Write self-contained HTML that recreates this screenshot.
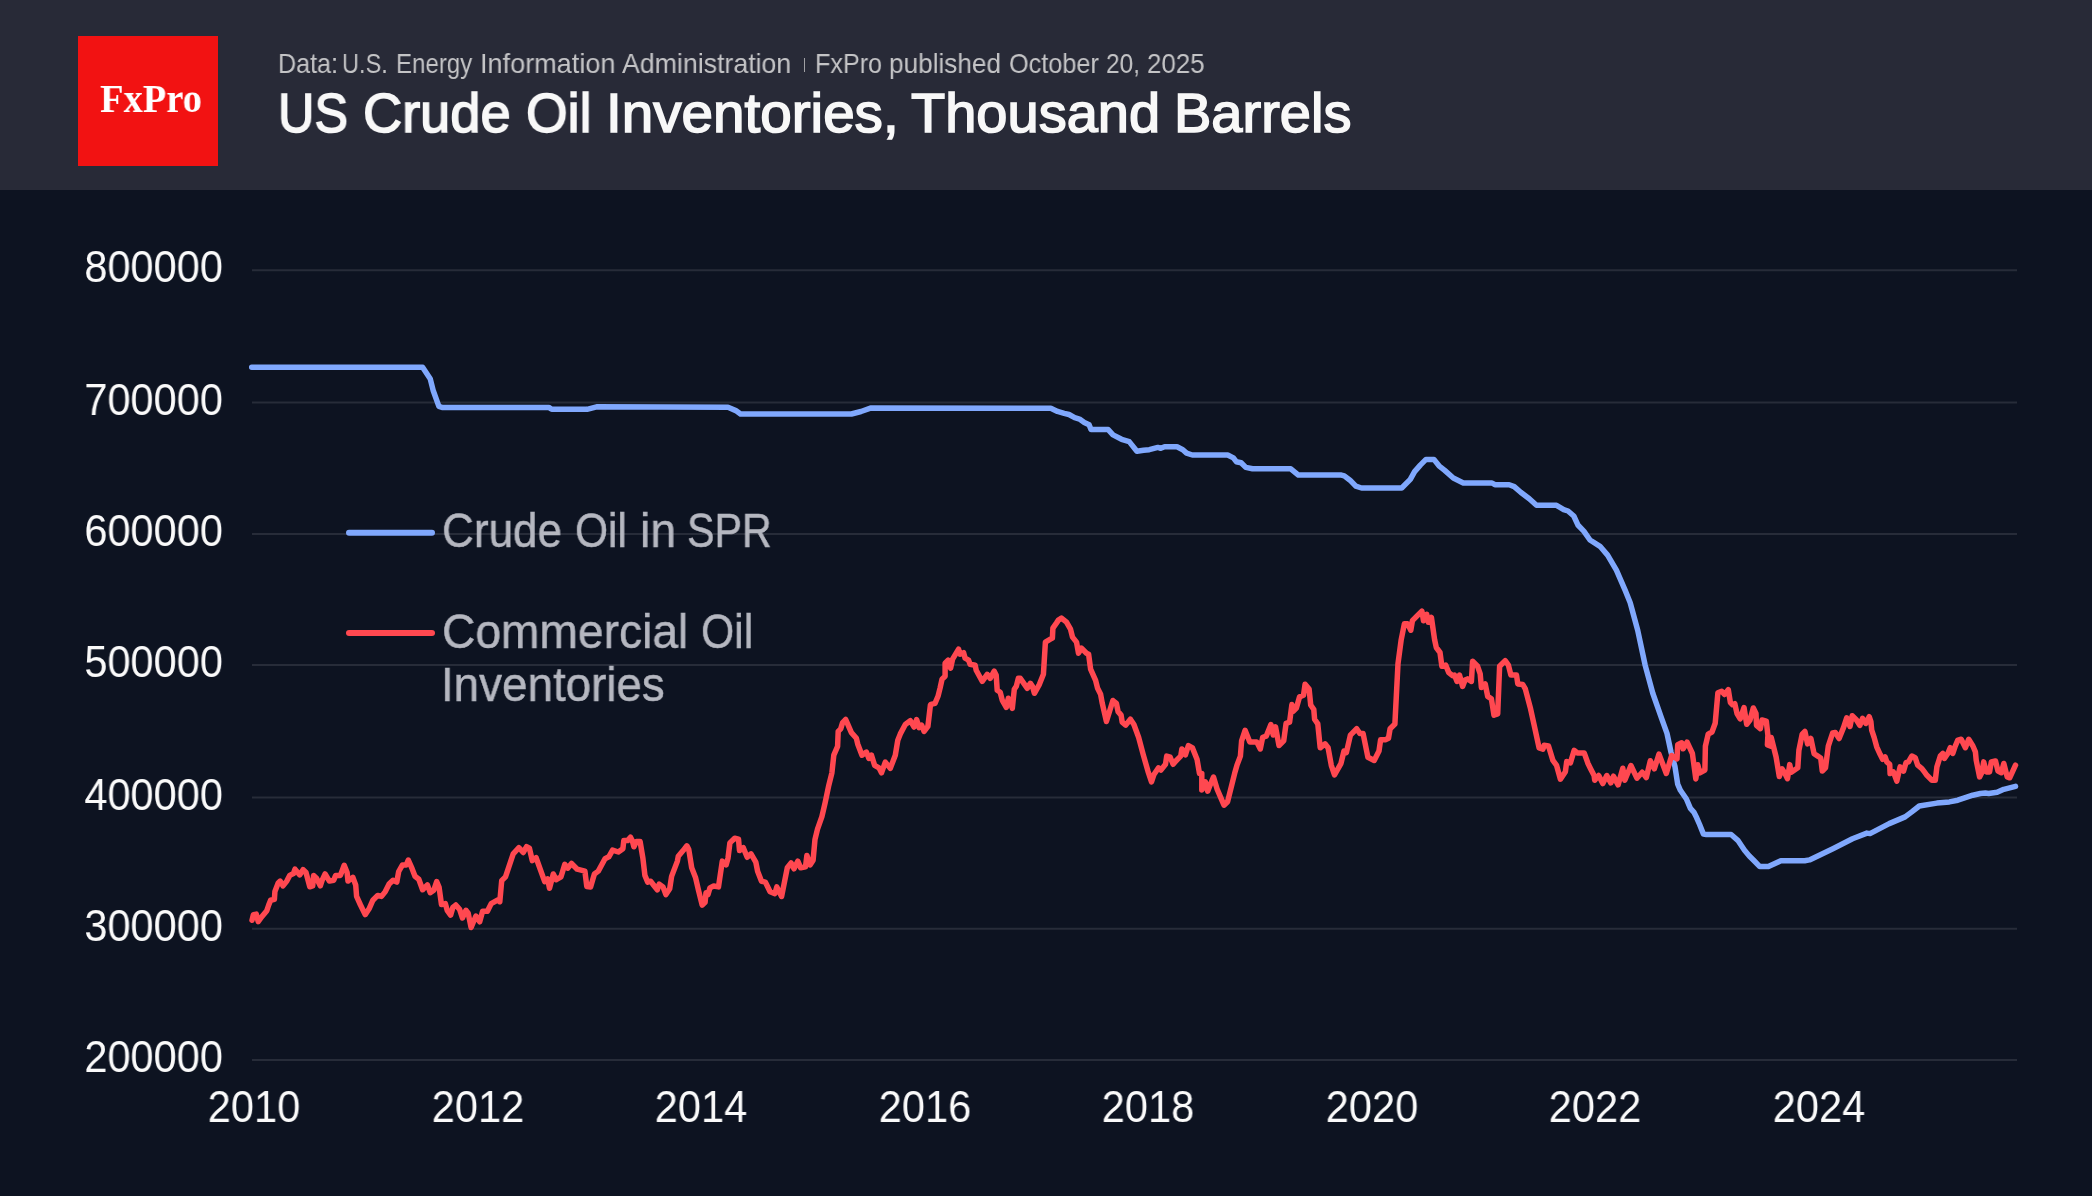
<!DOCTYPE html>
<html><head><meta charset="utf-8"><style>
*{margin:0;padding:0;box-sizing:border-box}
html,body{width:2092px;height:1196px;overflow:hidden;background:#0d1321}
body{position:relative;font-family:"Liberation Sans",sans-serif}
#hdr{position:absolute;left:0;top:0;width:2092px;height:189.5px;background:#282a37}
#logo{position:absolute;left:78px;top:36px;width:140px;height:130px;background:#f21212}
#logo span{position:absolute;left:22px;top:43.2px;font-family:"Liberation Serif",serif;font-weight:bold;font-size:40.5px;line-height:1;color:#fff;white-space:nowrap;transform:scaleX(0.95);transform-origin:0 0;will-change:transform;}
#sep{position:absolute;left:803.5px;top:57.5px;width:1.4px;height:14px;background:#a0a0a4}
svg{position:absolute;left:0;top:0}
.tw,.sw,.lw{position:absolute;line-height:1;white-space:nowrap;transform-origin:0 0;will-change:transform}
.tw{font-size:56px;color:#f8f8f8;-webkit-text-stroke:1.6px #f8f8f8}
.sw{font-size:27.4px;color:#c4c4c6}
.lw{font-size:48px;color:#b5b7c0;-webkit-text-stroke:0.5px #b5b7c0}
.yl{position:absolute;left:22.8px;width:200px;text-align:right;font-size:44px;letter-spacing:0px;line-height:1;color:#fafafa;white-space:nowrap;will-change:transform;transform:scaleX(0.945);transform-origin:100% 0}
.xl{position:absolute;top:1085px;width:120px;text-align:center;font-size:44px;letter-spacing:0px;line-height:1;color:#fafafa;will-change:transform;transform:scaleX(0.945);transform-origin:50% 0}
</style></head><body>
<div id="hdr"></div>
<div id="logo"><span>FxPro</span></div>
<div class="sw" style="left:277.86px;top:49.66px;transform:scaleX(0.9182)">Data:</div><div class="sw" style="left:342.48px;top:49.66px;transform:scaleX(0.8578)">U.S.</div><div class="sw" style="left:396.04px;top:49.66px;transform:scaleX(0.8791)">Energy</div><div class="sw" style="left:480.02px;top:49.66px;transform:scaleX(0.9889)">Information</div><div class="sw" style="left:622.20px;top:49.66px;transform:scaleX(0.9750)">Administration</div><div class="sw" style="left:815.46px;top:49.66px;transform:scaleX(0.9179)">FxPro</div><div class="sw" style="left:889.34px;top:49.66px;transform:scaleX(0.9554)">published</div><div class="sw" style="left:1008.88px;top:49.66px;transform:scaleX(0.9231)">October</div><div class="sw" style="left:1106.41px;top:49.66px;transform:scaleX(0.8910)">20,</div><div class="sw" style="left:1147.46px;top:49.66px;transform:scaleX(0.9447)">2025</div>
<div id="sep"></div>
<div class="tw" style="left:277.62px;top:84.5px;transform:scaleX(0.8995)">US</div><div class="tw" style="left:363.44px;top:84.5px;transform:scaleX(0.9675)">Crude</div><div class="tw" style="left:526.45px;top:84.5px;transform:scaleX(0.9567)">Oil</div><div class="tw" style="left:606.15px;top:84.5px;transform:scaleX(1.0109)">Inventories,</div><div class="tw" style="left:910.90px;top:84.5px;transform:scaleX(0.9987)">Thousand</div><div class="tw" style="left:1174.21px;top:84.5px;transform:scaleX(0.9978)">Barrels</div>
<svg width="2092" height="1196" viewBox="0 0 2092 1196">
<g stroke="#272c39" stroke-width="2"><line x1="252" y1="1060.0" x2="2017" y2="1060.0"/><line x1="252" y1="928.7" x2="2017" y2="928.7"/><line x1="252" y1="797.5" x2="2017" y2="797.5"/><line x1="252" y1="665.0" x2="2017" y2="665.0"/><line x1="252" y1="534.0" x2="2017" y2="534.0"/><line x1="252" y1="402.5" x2="2017" y2="402.5"/><line x1="252" y1="270.3" x2="2017" y2="270.3"/></g>
<line x1="349" y1="532.8" x2="432" y2="532.8" stroke="#80a8fd" stroke-width="6" stroke-linecap="round"/>
<line x1="349" y1="632.9" x2="432" y2="632.9" stroke="#ff4850" stroke-width="6" stroke-linecap="round"/>
<path d="M251.7 367.2L422.6 367.2L430.2 378.7L433.1 390.2L438.9 406.4L442.0 407.4L548.8 407.4L551.7 409.3L587.0 409.3L596.6 406.8L728.0 407.3L735.8 410.6L740.5 414.0L851.4 414.0L861.0 411.5L870.5 408.1L1050.8 408.2L1057.5 411.4L1064.2 413.3L1069.0 414.5L1074.7 417.7L1079.5 419.1L1084.3 422.5L1089.1 424.8L1091.0 429.6L1108.2 429.6L1113.0 434.9L1121.6 439.3L1129.2 441.6L1136.9 451.2L1143.6 450.2L1149.3 449.7L1157.9 447.4L1160.8 448.3L1164.6 446.8L1177.0 446.8L1182.8 449.7L1186.6 453.1L1192.3 455.0L1227.7 455.0L1233.4 457.9L1236.3 461.7L1241.1 462.7L1245.8 467.4L1252.5 468.8L1290.8 468.8L1298.4 475.1L1341.4 475.1L1344.3 475.9L1350.0 480.2L1355.8 486.2L1361.5 488.0L1401.7 488.0L1410.3 479.4L1414.6 471.6L1420.3 465.1L1426.0 459.4L1433.9 459.4L1439.0 465.8L1444.7 470.4L1453.3 478.0L1463.3 483.0L1492.0 483.0L1494.9 484.7L1509.2 484.7L1514.2 486.6L1520.7 492.3L1529.3 498.8L1536.5 505.3L1556.5 505.3L1563.7 509.6L1568.0 511.0L1573.8 516.0L1578.1 525.3L1583.8 531.1L1590.0 540.0L1600.0 546.3L1607.6 555.1L1616.4 570.1L1625.1 590.2L1630.2 602.7L1637.7 630.3L1645.2 665.4L1652.7 693.0L1661.5 718.1L1667.0 733.4L1671.0 752.1L1675.0 766.8L1677.7 784.2L1680.4 790.3L1686.4 799.0L1690.4 808.4L1693.8 812.1L1696.7 817.8L1699.6 824.5L1703.4 834.1L1706.3 834.5L1731.1 834.5L1737.8 840.3L1744.5 850.3L1749.3 856.0L1754.1 860.8L1759.8 866.6L1768.4 866.6L1780.8 860.8L1804.7 860.8L1809.5 859.9L1833.4 848.4L1852.5 838.8L1866.9 833.1L1870.0 833.6L1889.2 823.6L1905.1 816.9L1911.8 811.9L1919.3 806.0L1936.9 803.1L1949.4 801.9L1957.8 800.2L1972.8 795.2L1980.4 793.5L1985.4 793.1L1988.7 793.5L1997.1 792.3L2003.8 789.3L2015.5 786.4" fill="none" stroke="#80a8fd" stroke-width="5.5" stroke-linejoin="round" stroke-linecap="round"/>
<path d="M252.0 920.3L253.4 914.6L256.3 914.1L258.2 921.7L262.0 916.5L266.8 910.7L268.7 905.0L270.6 900.2L274.4 899.3L274.9 891.6L278.2 883.0L280.2 881.1L283.0 885.9L286.8 881.1L289.7 875.4L293.5 873.5L295.0 869.2L299.8 874.9L303.1 869.6L306.0 872.5L309.8 886.8L312.7 885.9L313.6 875.4L316.5 878.2L320.3 885.9L322.2 880.2L325.1 873.9L329.4 881.1L333.7 880.2L335.6 875.4L340.4 875.4L344.2 865.3L347.1 872.5L348.0 881.1L352.8 877.3L355.7 884.9L356.6 896.4L360.5 905.0L365.2 914.6L369.1 908.8L372.9 900.2L377.7 895.4L381.5 896.4L385.3 891.6L389.1 884.0L393.0 880.2L396.8 882.1L398.7 871.5L402.5 864.9L406.3 864.9L408.3 860.1L412.1 868.7L415.0 876.3L418.8 879.2L422.6 889.7L427.4 884.9L430.2 892.6L433.8 890.2L436.7 881.6L439.1 887.4L441.5 904.6L445.3 903.6L447.2 910.3L450.6 915.1L452.9 907.4L455.8 905.0L459.6 909.4L462.5 918.0L465.9 910.3L468.2 913.2L471.1 927.5L475.9 916.0L479.7 921.8L482.6 911.3L487.4 911.3L491.2 903.6L497.9 899.8L499.8 901.7L501.7 880.7L505.5 876.8L513.2 853.9L518.9 847.7L523.2 852.5L526.6 846.7L529.4 848.2L532.3 860.6L536.1 857.7L544.7 881.6L547.6 878.8L549.5 888.3L553.3 874.0L556.2 879.7L561.0 876.8L564.8 864.4L567.7 868.2L571.5 863.5L577.2 869.2L584.9 871.1L586.8 886.4L590.6 886.9L594.4 874.0L598.3 871.1L605.0 858.7L608.8 856.8L612.6 850.1L618.3 852.0L622.9 848.7L623.8 840.6L627.6 840.6L630.5 837.2L632.4 841.0L633.9 846.8L636.3 841.5L640.1 841.5L642.9 858.2L644.9 875.4L647.7 882.1L650.6 881.2L653.5 885.0L657.3 889.8L659.2 884.1L663.0 886.9L665.9 894.6L669.7 888.8L671.6 876.4L677.4 861.1L678.3 856.3L683.1 850.6L686.9 845.8L688.8 849.6L691.7 867.8L695.5 877.4L698.4 889.8L702.2 905.1L705.1 902.2L706.0 892.7L708.0 894.6L709.9 887.9L713.7 886.0L718.5 886.9L722.3 861.1L726.1 864.9L728.0 858.2L729.9 842.9L734.7 838.2L738.5 839.1L739.5 850.6L743.3 847.7L747.2 857.3L751.0 853.9L755.8 862.1L757.7 871.6L761.5 881.2L765.3 882.1L770.1 891.7L774.9 893.6L776.8 886.9L781.6 896.5L787.3 867.8L791.1 863.0L794.0 868.8L797.8 861.1L800.7 867.8L805.5 866.8L806.9 855.4L810.2 864.9L813.1 860.2L815.0 839.3L817.5 829.2L821.9 816.7L825.1 802.9L828.8 785.3L831.9 772.8L833.8 755.2L837.6 746.4L838.2 731.4L840.7 728.9L842.6 722.6L845.7 719.5L847.6 723.9L851.4 732.6L856.4 738.3L857.7 743.9L862.0 755.2L866.4 752.1L868.9 758.4L871.5 755.2L874.6 765.3L879.0 767.8L881.5 772.8L885.3 762.1L890.3 768.4L895.3 755.2L897.8 740.2L900.3 733.9L905.3 724.5L910.3 720.7L914.1 727.0L916.6 719.5L919.1 727.6L921.6 725.1L924.1 731.4L927.9 726.4L930.4 705.1L931.0 704.4L935.0 703.4L938.0 696.3L940.0 688.3L942.0 679.3L945.1 676.3L945.1 663.2L948.1 660.2L950.6 668.2L952.6 659.2L958.6 649.2L960.1 654.2L963.6 652.7L965.1 658.2L968.6 660.2L970.1 664.2L975.2 665.2L976.2 670.2L982.2 681.3L987.2 674.3L990.2 678.3L994.2 671.2L996.2 675.3L997.2 690.3L1000.2 692.3L1002.3 700.4L1006.3 707.4L1008.3 698.3L1010.3 700.4L1012.3 708.4L1014.3 689.3L1016.3 686.3L1018.3 678.3L1020.3 678.3L1027.3 688.3L1030.4 683.3L1032.4 686.3L1034.4 693.3L1039.4 684.3L1043.4 674.3L1045.4 642.1L1050.4 639.1L1052.4 638.1L1052.9 628.1L1056.4 623.1L1058.4 620.1L1061.5 618.1L1066.5 622.1L1070.5 629.1L1072.5 637.1L1076.5 642.1L1078.5 653.2L1081.5 648.2L1086.5 653.2L1088.6 654.2L1090.6 669.2L1095.6 680.3L1097.6 688.3L1100.6 694.3L1102.3 703.4L1106.4 721.5L1112.9 700.5L1116.4 703.4L1118.1 711.6L1121.1 715.1L1122.2 722.1L1125.7 725.1L1130.4 719.2L1133.9 724.5L1138.6 737.3L1143.3 754.9L1148.0 771.3L1151.5 781.8L1153.8 774.8L1158.5 767.8L1160.9 770.1L1165.5 764.3L1166.7 756.1L1170.2 757.2L1173.1 764.3L1176.1 760.7L1180.7 756.1L1181.9 749.0L1185.4 754.9L1188.4 745.5L1192.5 747.9L1197.1 759.6L1199.5 773.6L1201.8 773.6L1201.8 790.0L1205.3 781.8L1207.7 791.2L1210.0 785.3L1213.5 777.1L1217.0 788.8L1224.0 805.2L1227.6 801.7L1231.1 787.7L1234.6 773.6L1236.9 765.4L1240.4 756.1L1241.6 740.9L1245.1 730.3L1247.5 736.2L1249.8 742.0L1256.8 742.0L1260.3 749.0L1262.7 737.3L1266.2 736.2L1270.9 724.5L1273.2 735.0L1275.5 726.8L1279.0 745.5L1283.7 740.9L1286.1 723.3L1289.6 722.1L1291.9 704.6L1293.2 711.2L1296.4 708.1L1299.5 696.9L1303.5 695.3L1305.1 684.2L1309.1 689.0L1310.7 704.9L1313.8 709.6L1314.6 719.2L1317.8 723.9L1320.2 747.8L1325.0 743.8L1328.1 747.8L1331.3 765.3L1334.5 774.8L1340.9 763.7L1344.0 751.0L1346.4 752.5L1350.4 735.1L1356.7 728.7L1359.9 733.5L1363.1 733.5L1367.9 757.3L1374.2 760.5L1379.0 751.0L1380.6 739.8L1385.3 739.8L1388.5 738.2L1390.1 728.7L1394.9 724.0L1398.0 663.6L1401.2 639.7L1404.4 623.8L1407.6 623.8L1410.8 630.2L1412.4 620.7L1417.1 615.9L1421.9 611.1L1423.5 620.7L1426.7 614.3L1428.3 622.2L1431.4 617.5L1434.6 639.7L1436.3 647.5L1440.0 652.5L1441.9 666.3L1445.7 665.1L1448.8 672.6L1452.6 675.7L1454.5 675.1L1457.0 681.4L1459.5 675.1L1462.6 686.4L1465.1 680.1L1467.6 678.9L1471.4 681.4L1472.6 661.3L1477.6 666.3L1480.2 673.9L1481.4 687.6L1485.2 683.9L1487.7 696.4L1491.4 698.9L1494.0 715.2L1497.7 714.0L1499.6 666.3L1505.2 660.7L1508.4 665.1L1510.9 675.1L1516.5 675.1L1517.8 683.9L1522.8 684.5L1525.3 688.9L1530.3 707.7L1535.3 730.3L1539.1 747.8L1542.9 749.1L1544.1 745.3L1548.5 746.0L1552.9 760.4L1556.6 765.4L1560.4 779.2L1565.4 771.7L1566.7 761.6L1570.4 762.9L1574.2 750.3L1577.3 752.9L1584.2 752.9L1588.0 763.5L1590.7 768.9L1594.1 775.5L1594.7 780.2L1598.7 775.5L1602.8 783.6L1606.8 775.5L1610.8 782.9L1613.5 776.2L1618.1 784.9L1622.8 768.2L1624.8 780.2L1630.9 765.5L1636.9 778.2L1642.2 772.2L1646.3 777.6L1650.3 760.8L1654.3 768.9L1659.0 754.1L1666.3 773.5L1671.7 755.5L1677.0 758.8L1677.7 744.8L1681.7 742.8L1683.1 748.8L1687.1 742.1L1692.4 753.5L1695.8 778.9L1697.8 764.8L1699.8 772.9L1704.9 770.0L1705.4 746.1L1708.2 734.1L1712.0 732.0L1715.2 723.3L1717.9 692.8L1721.7 691.2L1724.5 694.5L1728.3 689.6L1730.4 702.6L1732.6 704.8L1734.8 703.7L1737.0 713.5L1740.2 718.9L1744.0 707.5L1746.7 724.3L1750.0 720.0L1753.3 708.0L1756.0 713.5L1756.5 725.4L1760.3 728.7L1762.0 720.0L1766.3 721.1L1767.9 735.2L1767.4 745.0L1770.7 746.1L1771.2 737.4L1776.1 757.0L1779.3 776.5L1782.1 768.9L1784.8 773.3L1787.5 778.7L1789.7 764.6L1791.3 772.2L1797.8 767.8L1798.9 750.4L1802.2 734.1L1804.9 731.4L1807.6 743.9L1810.9 738.5L1814.1 753.7L1817.4 755.9L1820.7 758.0L1822.3 771.1L1825.5 767.8L1828.3 746.1L1832.6 733.0L1835.3 732.5L1839.1 738.5L1843.5 727.6L1846.7 717.8L1850.0 726.5L1852.2 715.7L1856.5 720.0L1859.8 725.4L1862.5 718.4L1865.9 723.4L1869.2 716.7L1870.9 721.7L1871.7 730.1L1874.2 737.6L1876.7 746.8L1880.1 754.3L1882.6 759.4L1885.1 756.9L1886.8 761.9L1889.7 764.4L1890.1 773.6L1893.4 771.9L1896.8 781.1L1900.1 766.9L1903.5 771.1L1906.0 762.7L1908.5 761.9L1911.8 756.0L1915.2 757.7L1917.7 765.2L1921.9 768.6L1924.4 771.9L1926.9 775.3L1931.9 780.3L1935.3 780.3L1936.9 766.9L1940.3 756.0L1942.8 753.5L1944.4 758.5L1947.8 753.5L1950.3 747.7L1952.8 753.5L1955.3 746.0L1957.8 740.1L1961.2 739.3L1965.4 747.7L1968.7 739.3L1972.9 746.0L1975.4 751.8L1976.2 760.2L1979.6 776.9L1982.1 771.9L1983.7 761.9L1986.3 771.9L1989.6 771.9L1991.3 761.9L1995.5 761.0L1998.0 771.1L2001.3 772.7L2003.8 763.5L2007.2 776.9L2009.7 777.8L2015.5 765.2" fill="none" stroke="#ff4850" stroke-width="5.5" stroke-linejoin="round" stroke-linecap="round"/>
</svg>
<div class="yl" style="top:1035.0px">200000</div><div class="yl" style="top:903.7px">300000</div><div class="yl" style="top:772.5px">400000</div><div class="yl" style="top:640.0px">500000</div><div class="yl" style="top:509.0px">600000</div><div class="yl" style="top:377.5px">700000</div><div class="yl" style="top:245.3px">800000</div>
<div class="xl" style="left:194.2px">2010</div><div class="xl" style="left:417.7px">2012</div><div class="xl" style="left:641.2px">2014</div><div class="xl" style="left:864.7px">2016</div><div class="xl" style="left:1088.2px">2018</div><div class="xl" style="left:1311.7px">2020</div><div class="xl" style="left:1535.2px">2022</div><div class="xl" style="left:1758.7px">2024</div>
<div class="lw" style="left:442.09px;top:507px;transform:scaleX(0.9182)">Crude</div><div class="lw" style="left:574.85px;top:507px;transform:scaleX(0.8844)">Oil</div><div class="lw" style="left:639.86px;top:507px;transform:scaleX(0.9607)">in</div><div class="lw" style="left:687.00px;top:507px;transform:scaleX(0.8584)">SPR</div><div class="lw" style="left:442.02px;top:607.5px;transform:scaleX(0.9620)">Commercial</div><div class="lw" style="left:701.14px;top:607.5px;transform:scaleX(0.8899)">Oil</div><div class="lw" style="left:441.43px;top:660.5px;transform:scaleX(0.9531)">Inventories</div>
</body></html>
